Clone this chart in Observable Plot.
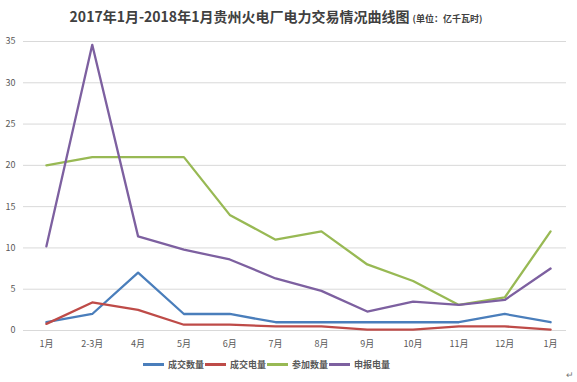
<!DOCTYPE html>
<html><head><meta charset="utf-8">
<script src="https://cdn.jsdelivr.net/npm/d3@7"></script>
<script src="https://cdn.jsdelivr.net/npm/@observablehq/plot@0.6"></script>
<style>
body{margin:0;background:#fff;font-family:"Noto Sans CJK SC","Noto Sans",sans-serif;}
#wrap{position:relative;width:577px;height:382px;overflow:hidden;}
#title{position:absolute;left:0;top:6px;width:577px;text-align:center;font-weight:bold;color:#404040;font-size:14px;white-space:nowrap;padding-right:25px;box-sizing:border-box;}
#title small{font-size:9px;}
#legend{position:absolute;left:143px;top:358px;display:flex;align-items:center;font-size:9px;font-weight:bold;color:#595959;white-space:nowrap;}
#legend .sw{display:inline-block;width:21px;height:2.5px;margin-right:4px;}
#legend .it{display:flex;align-items:center;margin-right:1px;}
#mark{position:absolute;left:566px;top:368px;font-size:9px;color:#777;}
svg{position:absolute;left:0;top:0;}
</style></head>
<body><div id="wrap">
<div id="title">2017年1月-2018年1月贵州火电厂电力交易情况曲线图 <small>(单位：亿千瓦时)</small></div>
<div id="chart"></div>
<div id="legend"></div>
<div id="mark">↵</div>
</div>
<script>
const months = ["1月","2-3月","4月","5月","6月","7月","8月","9月","10月","11月","12月","1月"];
const seriesNames = ["成交数量","成交电量","参加数量","申报电量"];
const seriesColors = ["#4a7ebb","#be4b48","#98b954","#7d60a0"];
const dealCount = [1, 2, 7, 2, 2, 1, 1, 1, 1, 1, 2, 1];
const dealPower = [0.8, 3.4, 2.5, 0.7, 0.7, 0.5, 0.5, 0.1, 0.1, 0.5, 0.5, 0.1];
const joinCount = [20, 21, 21, 21, 14, 11, 12, 8, 6, 3.1, 4, 12];
const declaredPower = [10.2, 34.6, 11.4, 9.8, 8.6, 6.3, 4.8, 2.3, 3.5, 3.1, 3.7, 7.5];
const yTicks = [0, 5, 10, 15, 20, 25, 30, 35];

const allSeries = [dealCount, dealPower, joinCount, declaredPower];
const data = [];
allSeries.forEach((vals, s) => vals.forEach((v, i) => data.push({i, v, s: seriesNames[s]})));

const chart = Plot.plot({
  width: 577, height: 382,
  marginTop: 41, marginBottom: 52, marginLeft: 23, marginRight: 4,
  style: {fontFamily: '"Noto Sans CJK SC","Noto Sans",sans-serif', fontSize: "9px", color: "#595959", background: "transparent"},
  x: {domain: [-0.5, months.length - 0.5], ticks: d3.range(months.length), tickFormat: i => months[i], tickSize: 0, tickPadding: 10, label: null},
  y: {domain: [0, 35], ticks: yTicks, tickSize: 0, tickPadding: 8, label: null},
  color: {domain: seriesNames, range: seriesColors},
  marks: [
    Plot.ruleY(yTicks, {stroke: "#d9d9d9", strokeWidth: 1, insetRight: 7}),
    Plot.line(data, {x: "i", y: "v", z: "s", stroke: "s", strokeWidth: 2.3, strokeLinejoin: "round", strokeLinecap: "round"}),
    Plot.axisX({ticks: d3.range(months.length), tickFormat: i => months[i], tickSize: 0, tickPadding: 10, fill: "#595959", label: null}),
    Plot.axisY({ticks: yTicks, tickSize: 0, tickPadding: 8, fill: "#595959", label: null})
  ]
});
document.getElementById("chart").appendChild(chart);

const lg = document.getElementById("legend");
seriesNames.forEach((n, k) => {
  const it = document.createElement("span");
  it.className = "it";
  it.innerHTML = `<span class="sw" style="background:${seriesColors[k]}"></span>${n}`;
  lg.appendChild(it);
});
</script>
</body></html>
